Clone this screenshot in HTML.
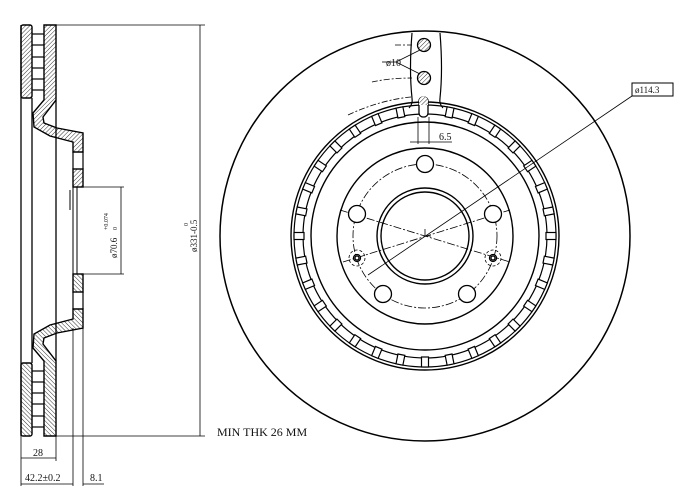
<!DOCTYPE html>
<html><head><meta charset="utf-8"><style>
html,body{margin:0;padding:0;background:#fff}
svg{display:block}
text{font-family:"Liberation Serif","DejaVu Serif",serif;fill:#111}
</style></head><body>
<svg width="688" height="501" viewBox="0 0 688 501" xmlns="http://www.w3.org/2000/svg">
<defs>
<pattern id="h" width="3" height="3" patternUnits="userSpaceOnUse" patternTransform="rotate(45)">
<rect width="3" height="3" fill="#fff"/><line x1="0" y1="0" x2="0" y2="3" stroke="#333" stroke-width="1"/>
</pattern>
<g id="half" stroke="#000" stroke-width="1.4" fill="url(#h)">
<rect x="21" y="25" width="11" height="73" rx="2"/>
<path d="M44 25 H56 V100 L43 117 L44 123 L57 128 L83 133 V152 H73 V142 L50 136 L34 127 L33 113 L44 100 Z"/>
<rect x="73" y="169" width="10" height="18"/>
<g stroke-width="1.2" fill="none">
<line x1="32" y1="34" x2="44" y2="34"/><line x1="32" y1="45" x2="44" y2="45"/>
<line x1="32" y1="57" x2="44" y2="57"/><line x1="32" y1="68" x2="44" y2="68"/>
<line x1="32" y1="79" x2="44" y2="79"/><line x1="32" y1="90" x2="44" y2="90"/>
<line x1="73" y1="152" x2="73" y2="169"/><line x1="83" y1="152" x2="83" y2="169"/>
</g>
</g>
<rect id="slot" x="-3.5" y="-131" width="7" height="10" fill="#fff" stroke="#000" stroke-width="1.2"/>
</defs>

<!-- Section view -->
<use href="#half"/>
<use href="#half" transform="translate(0,461) scale(1,-1)"/>
<g stroke="#000" stroke-width="1.3" fill="none">
<line x1="21" y1="25" x2="21" y2="436"/>
<line x1="32" y1="98" x2="32" y2="363"/>
<line x1="56" y1="100" x2="56" y2="361"/>
<line x1="77" y1="187" x2="77" y2="274" stroke-width="1"/>
<line x1="73" y1="187" x2="73" y2="274" stroke-width="1"/>
<line x1="70" y1="190" x2="70" y2="210" stroke-width="1"/>
</g>
<g stroke="#000" stroke-width="0.8" fill="none">
<line x1="56" y1="25" x2="205" y2="25"/><line x1="56" y1="436" x2="205" y2="436"/>
<line x1="200" y1="25" x2="200" y2="436"/>
<line x1="83" y1="187" x2="124" y2="187"/><line x1="83" y1="274" x2="124" y2="274"/>
<line x1="121" y1="187" x2="121" y2="274"/>
<line x1="21" y1="436" x2="21" y2="486"/><line x1="56" y1="436" x2="56" y2="461"/>
<line x1="73" y1="328" x2="73" y2="486"/><line x1="83" y1="328" x2="83" y2="486"/>
<line x1="21" y1="458" x2="56" y2="458"/>
<line x1="21" y1="484" x2="73" y2="484"/>
<line x1="83" y1="484" x2="104" y2="484"/>
</g>
<text x="0" y="0" font-size="9" transform="translate(117,258) rotate(-90)">ø70.6</text>
<text x="0" y="0" font-size="6" transform="translate(108,230) rotate(-90)">+0.074</text>
<text x="0" y="0" font-size="6" transform="translate(117,230) rotate(-90)">0</text>
<text x="0" y="0" font-size="9" transform="translate(197,252) rotate(-90)">ø331-0.5</text>
<text x="0" y="0" font-size="6" transform="translate(188,226) rotate(-90)">0</text>
<text x="33" y="456" font-size="10">28</text>
<text x="25" y="481" font-size="10">42.2±0.2</text>
<text x="90" y="481" font-size="10">8.1</text>
<text x="217" y="436" font-size="12">MIN THK 26 MM</text>

<!-- Front view -->
<g stroke="#000" fill="none">
<circle cx="425" cy="236" r="205" stroke-width="1.5"/>
<circle cx="425" cy="236" r="134" stroke-width="1.4"/>
<circle cx="425" cy="236" r="131" stroke-width="1.2"/>
<circle cx="425" cy="236" r="122" stroke-width="1.2"/>
<circle cx="425" cy="236" r="114" stroke-width="1.4"/>
<circle cx="425" cy="236" r="88" stroke-width="1.4"/>
<circle cx="425" cy="236" r="72" stroke-width="0.8" stroke-dasharray="8 2 2 2"/>
<circle cx="425" cy="236" r="48" stroke-width="1.4"/>
<circle cx="425" cy="236" r="44" stroke-width="1.4"/>
</g>
<g transform="translate(425,236)">
<use href="#slot" transform="rotate(11.25)"/><use href="#slot" transform="rotate(22.5)"/><use href="#slot" transform="rotate(33.75)"/><use href="#slot" transform="rotate(45)"/><use href="#slot" transform="rotate(56.25)"/><use href="#slot" transform="rotate(67.5)"/><use href="#slot" transform="rotate(78.75)"/><use href="#slot" transform="rotate(90)"/><use href="#slot" transform="rotate(101.25)"/><use href="#slot" transform="rotate(112.5)"/><use href="#slot" transform="rotate(123.75)"/><use href="#slot" transform="rotate(135)"/><use href="#slot" transform="rotate(146.25)"/><use href="#slot" transform="rotate(157.5)"/><use href="#slot" transform="rotate(168.75)"/><use href="#slot" transform="rotate(180)"/><use href="#slot" transform="rotate(191.25)"/><use href="#slot" transform="rotate(202.5)"/><use href="#slot" transform="rotate(213.75)"/><use href="#slot" transform="rotate(225)"/><use href="#slot" transform="rotate(236.25)"/><use href="#slot" transform="rotate(247.5)"/><use href="#slot" transform="rotate(258.75)"/><use href="#slot" transform="rotate(270)"/><use href="#slot" transform="rotate(281.25)"/><use href="#slot" transform="rotate(292.5)"/><use href="#slot" transform="rotate(303.75)"/><use href="#slot" transform="rotate(315)"/><use href="#slot" transform="rotate(326.25)"/><use href="#slot" transform="rotate(337.5)"/><use href="#slot" transform="rotate(348.75)"/>
</g>
<!-- top notch -->
<path d="M412 33 Q409 70 412 98 Q413 104 409 108 M440 33 Q443 70 440 98 Q439 104 443 108" stroke="#000" stroke-width="1.2" fill="none"/>
<rect x="419" y="97" width="9" height="20" rx="4" fill="#fff" stroke="#000" stroke-width="1.3"/>
<path d="M419 101 a4.5 4.5 0 0 1 9 0 v4 h-9z" fill="url(#h)" stroke="none"/>
<circle cx="424" cy="45" r="6.5" fill="url(#h)" stroke="#000" stroke-width="1.3"/>
<circle cx="424" cy="78" r="6.5" fill="url(#h)" stroke="#000" stroke-width="1.3"/>
<g stroke="#000" stroke-width="0.8" fill="none">
<line x1="396" y1="62" x2="420" y2="50"/><line x1="396" y1="62" x2="420" y2="74"/>
<line x1="382" y1="62" x2="396" y2="62"/>
<path d="M395 45 L412 45" stroke-dasharray="6 2 2 2"/>
<path d="M372 82 Q390 78 412 78" stroke-dasharray="6 2 2 2"/>
<path d="M348 115 Q380 100 411 97" stroke-dasharray="6 2 2 2"/>
<line x1="418" y1="117" x2="418" y2="144"/><line x1="429" y1="117" x2="429" y2="144"/>
<line x1="410" y1="142" x2="452" y2="142"/>
<line x1="632" y1="96" x2="368" y2="275"/>
<line x1="340" y1="210" x2="510" y2="262" stroke-dasharray="8 2 2 2"/>
<line x1="343" y1="262" x2="510" y2="210" stroke-dasharray="8 2 2 2"/>
<line x1="425" y1="229" x2="425" y2="236"/><line x1="425" y1="236" x2="431" y2="236"/>
</g>
<text x="386" y="66" font-size="10">ø10</text>
<text x="439" y="140" font-size="10">6.5</text>
<rect x="632" y="83" width="41" height="13" fill="#fff" stroke="#000" stroke-width="1"/>
<text x="635" y="93" font-size="9">ø114.3</text>
<!-- bolt holes -->
<g stroke="#000" stroke-width="1.3" fill="#fff">
<circle cx="425" cy="164" r="8.5"/>
<circle cx="493" cy="214" r="8.5"/>
<circle cx="357" cy="214" r="8.5"/>
<circle cx="383" cy="294" r="8.5"/>
<circle cx="467" cy="294" r="8.5"/>
<circle cx="493" cy="258" r="3.5"/><circle cx="357" cy="258" r="3.5"/>
<circle cx="493" cy="258" r="2"/><circle cx="357" cy="258" r="2"/>
</g>
<g stroke="#000" stroke-width="0.8" fill="none" stroke-dasharray="3 2">
<circle cx="493" cy="258" r="8"/><circle cx="357" cy="258" r="8"/>
</g>
</svg>
</body></html>
